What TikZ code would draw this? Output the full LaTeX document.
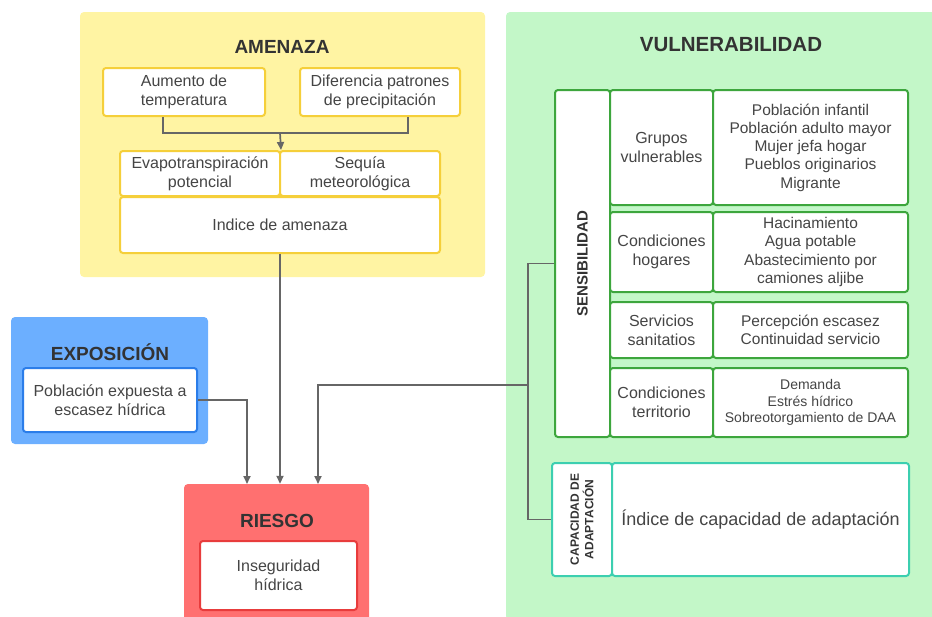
\documentclass[tikz,border=0pt]{standalone}
\usepackage{fontspec}
\setmainfont{Liberation Sans}
\usetikzlibrary{arrows.meta}
\definecolor{amzfill}{HTML}{FFF4A3}
\definecolor{amzline}{HTML}{F5CF3A}
\definecolor{expfill}{HTML}{6CAFFF}
\definecolor{expline}{HTML}{2B7DE9}
\definecolor{riefill}{HTML}{FF7070}
\definecolor{rieline}{HTML}{E83C3C}
\definecolor{vulfill}{HTML}{C3F7C8}
\definecolor{vulline}{HTML}{3DA63D}
\definecolor{capline}{HTML}{3CCFB0}
\definecolor{titlegray}{HTML}{333333}
\definecolor{textgray}{HTML}{454545}
\definecolor{linkgray}{HTML}{666666}
\begin{document}
\begin{tikzpicture} [x=1pt, y=-1pt,
  panel/.style={rounded corners=4pt, inner sep=0pt},
  title/.style={font=\fontsize{19}{22}\selectfont\bfseries, text=titlegray},
  box/.style={draw, line width=2pt, fill=white, rounded corners=3pt, align=center,
    inner sep=2pt, text=textgray, font=\fontsize{16}{19}\selectfont},
  ybox/.style={box, draw=amzline},
  gbox/.style={box, draw=vulline},
  detail/.style={gbox, font=\fontsize{15.5}{18.3}\selectfont},
  link/.style={draw=linkgray, line width=1.7pt},
  arr/.style={link, -{Triangle[length=8pt,width=7pt]}}]
\useasboundingbox (0,0) rectangle (932,616);

% panels
\node [panel, fill=amzfill, minimum width=405, minimum height=265] (amz) at (282.5,144.5) {};
\node [panel, fill=expfill, minimum width=197, minimum height=127] (exp) at (109.5,380.5) {};
\node [panel, fill=riefill, minimum width=185, minimum height=140] (ries) at (276.5,554) {};
\node [panel, fill=vulfill, minimum width=434, minimum height=608] (vul) at (723,316) {};

\node [title] (amzt) at (282,47) {AMENAZA};
\node [title] (expt) at (110,352) {EXPOSICIÓN};
\node [title] (riest) at (277,521) {RIESGO};
\node [title, font=\fontsize{20.5}{24}\selectfont\bfseries] (vult) at (731,45) {VULNERABILIDAD};

% amenaza
\node [ybox, minimum width=162, minimum height=48] (aum) at (184,92) {Aumento de\\temperatura};
\node [ybox, minimum width=160, minimum height=48] (dif) at (380,92) {Diferencia patrones\\de precipitación};
\node [ybox, minimum width=160, minimum height=45] (evap) at (200,173.5) {Evapotranspiración\\potencial};
\node [ybox, minimum width=160, minimum height=45] (seq) at (360,173.5) {Sequía\\meteorológica};
\node [ybox, minimum width=320, minimum height=56] (ind) at (280,225) {Indice de amenaza};

% exposicion y riesgo
\node [box, draw=expline, minimum width=174, minimum height=64] (pob) at (110,400) {Población expuesta a\\escasez hídrica};
\node [box, draw=rieline, minimum width=157, minimum height=69] (inseg) at (278.5,575.5) {Inseguridad\\hídrica};

% vulnerabilidad
\node [gbox, minimum width=55, minimum height=347] (sens) at (582.5,263.5) {};
\node [rotate=90, font=\fontsize{15}{18}\selectfont\bfseries, text=titlegray] (senst) at (582.5,263.5) {SENSIBILIDAD};

\node [gbox, minimum width=103, minimum height=115] (gru) at (661.5,147.5) {Grupos\\vulnerables};
\node [detail, minimum width=195, minimum height=115] (grud) at (810.5,147.5)
  {Población infantil\\Población adulto mayor\\Mujer jefa hogar\\Pueblos originarios\\Migrante};
\node [gbox, minimum width=103, minimum height=80] (hog) at (661.5,252) {Condiciones\\hogares};
\node [detail, minimum width=195, minimum height=80] (hogd) at (810.5,252)
  {Hacinamiento\\Agua potable\\Abastecimiento por\\camiones aljibe};
\node [gbox, minimum width=103, minimum height=56] (ser) at (661.5,330) {Servicios\\sanitatios};
\node [detail, minimum width=195, minimum height=56] (serd) at (810.5,330)
  {Percepción escasez\\Continuidad servicio};
\node [gbox, minimum width=103, minimum height=69] (ter) at (661.5,402.5) {Condiciones\\territorio};
\node [detail, font=\fontsize{14}{16.7}\selectfont, minimum width=195, minimum height=69] (terd) at (810.5,402.5)
  {Demanda\\Estrés hídrico\\Sobreotorgamiento de DAA};

\node [box, draw=capline, minimum width=60, minimum height=113] (cap) at (582,519.5) {};
\node [rotate=90, align=center, font=\fontsize{12}{14.5}\selectfont\bfseries, text=titlegray] (capt) at (582,519.5)
  {CAPACIDAD DE\\ADAPTACIÓN};
\node [box, draw=capline, font=\fontsize{18}{21}\selectfont, minimum width=297, minimum height=113] (capd) at (760.5,519.5)
  {Índice de capacidad de adaptación};

% connectors
\coordinate (amj) at (280,133);
\draw [link] ([xshift=-21pt]aum.south) |- (amj);
\draw [link] ([xshift=28pt]dif.south) |- (amj);
\draw [arr] (amj) -- (evap.north east);
\draw [arr] (ind.south) -- (ind.south |- ries.north);

\coordinate (rin1) at (247,484);
\coordinate (rin3) at (318,484);
\draw [arr] (pob.east) -| (rin1);

\coordinate (brk) at (528,385);
\draw [link] (sens.west) -| (brk) |- (cap.west);
\draw [arr] (brk) -| (rin3);
\end{tikzpicture}
\end{document}
